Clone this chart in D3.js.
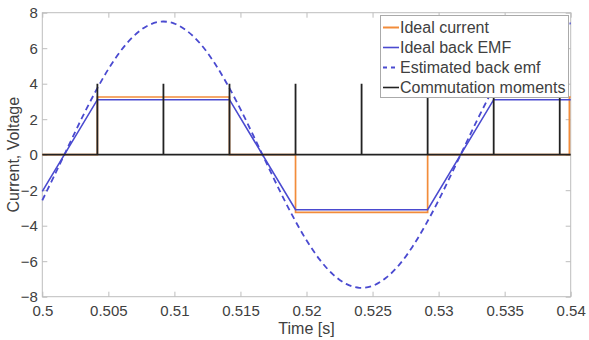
<!DOCTYPE html>
<html>
<head>
<meta charset="utf-8">
<script src="https://cdn.jsdelivr.net/npm/d3@7"></script>
<style>
  body { margin: 0; background: #fff; }
  svg { display: block; font-family: "Liberation Sans", Arial, sans-serif; }
</style>
</head>
<body>
<svg id="chart" width="589" height="340"></svg>
<script>
// Axis ticks
const xTicks = [0.5, 0.505, 0.51, 0.515, 0.52, 0.525, 0.53, 0.535, 0.54];
const yTicks = [-8, -6, -4, -2, 0, 2, 4, 6, 8];

// Estimated back EMF, sampled every 1 ms
const estTime = [0.500, 0.501, 0.502, 0.503, 0.504, 0.505, 0.506, 0.507, 0.508, 0.509,
                 0.510, 0.511, 0.512, 0.513, 0.514, 0.515, 0.516, 0.517, 0.518, 0.519,
                 0.520, 0.521, 0.522, 0.523, 0.524, 0.525, 0.526, 0.527, 0.528, 0.529,
                 0.530, 0.531, 0.532, 0.533, 0.534, 0.535, 0.536, 0.537, 0.538, 0.539, 0.540];
const estEmf = [-2.57, -1.04, 0.52, 2.07, 3.52, 4.82, 5.91, 6.74, 7.28, 7.50,
                7.39, 6.95, 6.22, 5.21, 3.97, 2.57, 1.04, -0.52, -2.07, -3.52,
                -4.82, -5.91, -6.74, -7.28, -7.50, -7.39, -6.95, -6.22, -5.21, -3.97,
                -2.57, -1.04, 0.52, 2.07, 3.52, 4.82, 5.91, 6.74, 7.28, 7.50, 7.39];

// Ideal (trapezoidal) back EMF
const idealEmfTime = [0.5, 0.50417, 0.51417, 0.51917, 0.52917, 0.53417, 0.54];
const idealEmf = [-2.07, 3.1, 3.1, -3.1, -3.1, 3.1, 3.1];

// Ideal phase current
const currentTime = [0.5, 0.50417, 0.50417, 0.51417, 0.51417, 0.51917, 0.51917,
                     0.52917, 0.52917, 0.5399, 0.5399, 0.54];
const idealCurrent = [0, 0, 3.25, 3.25, 0, 0, -3.25, -3.25, 0, 0, 3.25, 3.25];

// Commutation instants and marker height
const commutationTimes = [0.50417, 0.50917, 0.51417, 0.51917, 0.52417, 0.52917, 0.53417, 0.53917];
const commutationHeight = 4;

const seriesNames = ["Ideal current", "Ideal back EMF", "Estimated back emf", "Commutation moments"];
const colors = { current: "#f28c3a", emf: "#4a4ad0", est: "#4a4ad0", comm: "#222222" };

const svg = d3.select("#chart");
const mLeft = 42.3, mRight = 570.7, mTop = 12.7, mBottom = 296.7;

const x = d3.scaleLinear().domain([0.5, 0.54]).range([mLeft, mRight]);
const y = d3.scaleLinear().domain([-8, 8]).range([mBottom, mTop]);

const axisColor = "#bdbdbd";
const textColor = "#404040";

// Box
svg.append("rect")
  .attr("x", mLeft).attr("y", mTop)
  .attr("width", mRight - mLeft).attr("height", mBottom - mTop)
  .attr("fill", "#fff").attr("stroke", axisColor).attr("stroke-width", 1);

function styleAxis(g) {
  g.select(".domain").remove();
  g.selectAll(".tick line").attr("stroke", axisColor);
  g.selectAll(".tick text").attr("fill", textColor).style("font-size", "15px")
    .style("font-family", '"Liberation Sans", Arial, sans-serif');
}

svg.append("g").attr("transform", `translate(0,${mBottom})`)
  .call(d3.axisBottom(x).tickValues(xTicks).tickSize(-5).tickPadding(9).tickFormat(d => String(+d.toFixed(3))))
  .call(styleAxis);
svg.append("g").attr("transform", `translate(0,${mTop})`)
  .call(d3.axisTop(x).tickValues(xTicks).tickSize(-5).tickFormat(""))
  .call(styleAxis);
svg.append("g").attr("transform", `translate(${mLeft},0)`)
  .call(d3.axisLeft(y).tickValues(yTicks).tickSize(-5).tickPadding(4.5))
  .call(styleAxis);
svg.append("g").attr("transform", `translate(${mRight},0)`)
  .call(d3.axisRight(y).tickValues(yTicks).tickSize(-5).tickFormat(""))
  .call(styleAxis);

// Axis titles
svg.append("text")
  .attr("x", (mLeft + mRight) / 2).attr("y", 334)
  .attr("text-anchor", "middle").attr("fill", textColor)
  .style("font-size", "16px").text("Time [s]");
svg.append("text")
  .attr("transform", `translate(18.5,${(mTop + mBottom) / 2}) rotate(-90)`)
  .attr("text-anchor", "middle").attr("fill", textColor)
  .style("font-size", "16px").text("Current, Voltage");

const plot = svg.append("g");

const straight = d3.line().x(d => x(d[0])).y(d => y(d[1]));
const smooth = d3.line().x(d => x(d[0])).y(d => y(d[1])).curve(d3.curveCatmullRom.alpha(0.5));

// Ideal current
plot.append("path")
  .datum(currentTime.map((t, i) => [t, idealCurrent[i]]))
  .attr("d", straight).attr("fill", "none")
  .attr("stroke", colors.current).attr("stroke-width", 1.7);

// Ideal back EMF
plot.append("path")
  .datum(idealEmfTime.map((t, i) => [t, idealEmf[i]]))
  .attr("d", straight).attr("fill", "none")
  .attr("stroke", colors.emf).attr("stroke-width", 1.6);

// Estimated back EMF
plot.append("path")
  .datum(estTime.map((t, i) => [t, estEmf[i]]))
  .attr("d", smooth).attr("fill", "none")
  .attr("stroke", colors.est).attr("stroke-width", 1.8)
  .attr("stroke-dasharray", "6,4");

// Commutation markers on a zero baseline
const commPts = [[0.5, 0]];
commutationTimes.forEach(t => { commPts.push([t, 0], [t, commutationHeight], [t, 0]); });
commPts.push([0.54, 0]);
plot.append("path")
  .datum(commPts)
  .attr("d", straight).attr("fill", "none")
  .attr("stroke", colors.comm).attr("stroke-width", 1.8);

// Legend
const lg = svg.append("g");
lg.append("rect")
  .attr("x", 380.5).attr("y", 15.5).attr("width", 188).attr("height", 82)
  .attr("fill", "#fff").attr("stroke", "#aaaaaa").attr("stroke-width", 1);
const legendItems = [
  { name: seriesNames[0], color: colors.current, dash: null, w: 2 },
  { name: seriesNames[1], color: colors.emf, dash: null, w: 1.6 },
  { name: seriesNames[2], color: colors.est, dash: "4,4", w: 1.8 },
  { name: seriesNames[3], color: colors.comm, dash: null, w: 1.6 }
];
legendItems.forEach((it, i) => {
  const cy = 27.5 + i * 20;
  lg.append("line")
    .attr("x1", 383).attr("x2", 399).attr("y1", cy).attr("y2", cy)
    .attr("stroke", it.color).attr("stroke-width", it.w)
    .attr("stroke-dasharray", it.dash);
  lg.append("text")
    .attr("x", 400).attr("y", cy).attr("dy", "0.35em")
    .attr("fill", textColor).style("font-size", "16px").text(it.name);
});
</script>
</body>
</html>
